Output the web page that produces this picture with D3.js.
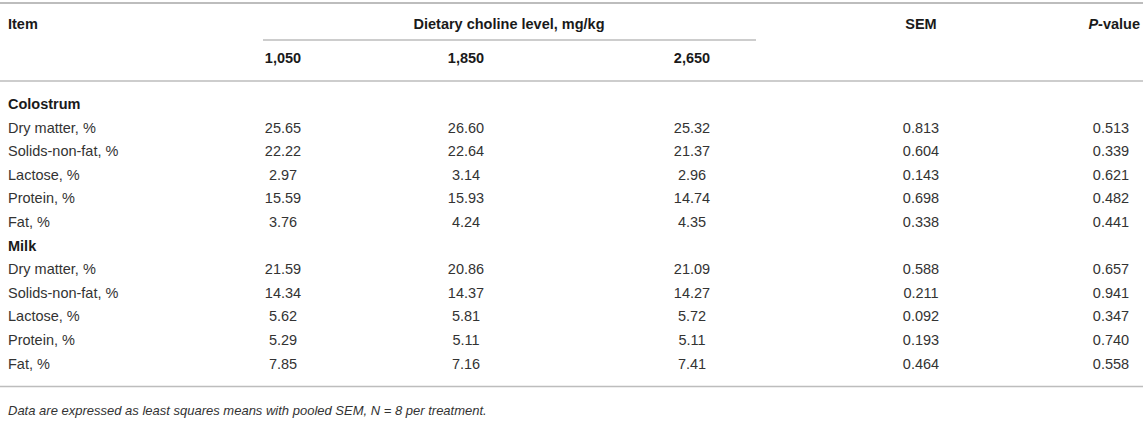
<!DOCTYPE html>
<html>
<head>
<meta charset="utf-8">
<script src="https://cdn.jsdelivr.net/npm/d3@7"></script>
<style>
  html, body { margin: 0; padding: 0; background: #fff; }
  svg text { font-family: "Liberation Sans", Arial, Helvetica, sans-serif; }
</style>
</head>
<body>
<svg id="table" width="1143" height="442"></svg>
<script>
// 표 데이터
var levels = ["1,050", "1,850", "2,650"];
var sections = ["Colostrum", "Milk"];
var items = ["Dry matter, %", "Solids-non-fat, %", "Lactose, %", "Protein, %", "Fat, %"];

var colostrumMeans = [
  [25.65, 26.60, 25.32],
  [22.22, 22.64, 21.37],
  [2.97, 3.14, 2.96],
  [15.59, 15.93, 14.74],
  [3.76, 4.24, 4.35]
];
var colostrumSEM = [0.813, 0.604, 0.143, 0.698, 0.338];
var colostrumP = [0.513, 0.339, 0.621, 0.482, 0.441];

var milkMeans = [
  [21.59, 20.86, 21.09],
  [14.34, 14.37, 14.27],
  [5.62, 5.81, 5.72],
  [5.29, 5.11, 5.11],
  [7.85, 7.16, 7.41]
];
var milkSEM = [0.588, 0.211, 0.092, 0.193, 0.464];
var milkP = [0.657, 0.941, 0.347, 0.740, 0.558];

var footnote = "Data are expressed as least squares means with pooled SEM, N = 8 per treatment.";

var svg = d3.select("#table"),
    width = +svg.attr("width");

// 행 목록 만들기
var rows = [];
var blocks = [
  { name: sections[0], means: colostrumMeans, sem: colostrumSEM, p: colostrumP },
  { name: sections[1], means: milkMeans, sem: milkSEM, p: milkP }
];
blocks.forEach(function(b) {
  rows.push({ key: b.name, label: b.name, header: true });
  items.forEach(function(it, i) {
    rows.push({ key: b.name + "|" + it, label: it, means: b.means[i], sem: b.sem[i], p: b.p[i] });
  });
});

var y = d3.scalePoint()
    .domain(rows.map(function(d) { return d.key; }))
    .range([104, 363.6]);

var xLevel = d3.scaleOrdinal()
    .domain(levels)
    .range([283, 466, 692]);

var xSem = 921, xP = 1111, xItem = 8;

var textColor = "#333", headColor = "#1a1a1a", lineColor = "#bdbdbd";

// 가로선
function hline(x1, x2, yy, w) {
  svg.append("line")
      .attr("x1", x1).attr("x2", x2)
      .attr("y1", yy).attr("y2", yy)
      .attr("stroke", lineColor)
      .attr("stroke-width", w);
}
hline(0, width, 3, 2);
hline(263, 756, 40, 1.5);
hline(0, width, 81, 1.5);
hline(0, width, 386.5, 1.5);

// 헤더
var head = svg.append("g")
    .attr("font-size", "14.5px")
    .attr("font-weight", "bold")
    .attr("fill", headColor);

head.append("text").attr("x", xItem).attr("y", 24).attr("dy", "0.35em").text("Item");
head.append("text").attr("x", 509).attr("y", 24).attr("dy", "0.35em")
    .attr("text-anchor", "middle").text("Dietary choline level, mg/kg");
head.append("text").attr("x", xSem).attr("y", 24).attr("dy", "0.35em")
    .attr("text-anchor", "middle").text("SEM");
var pt = head.append("text").attr("x", 1140).attr("y", 24).attr("dy", "0.35em")
    .attr("text-anchor", "end");
pt.append("tspan").attr("font-style", "italic").text("P");
pt.append("tspan").text("-value");

head.selectAll(".lvl")
    .data(levels)
    .enter()
    .append("text")
    .attr("class", "lvl")
    .attr("x", function(d) { return xLevel(d); })
    .attr("y", 58)
    .attr("dy", "0.35em")
    .attr("text-anchor", "middle")
    .text(function(d) { return d; });

// 본문 행
var body = svg.append("g").attr("font-size", "14.5px");

var row = body.selectAll(".row")
    .data(rows)
    .enter()
    .append("g")
    .attr("class", "row")
    .attr("transform", function(d) { return "translate(0," + y(d.key) + ")"; });

row.append("text")
    .attr("x", xItem)
    .attr("dy", "0.35em")
    .attr("fill", function(d) { return d.header ? headColor : textColor; })
    .attr("font-weight", function(d) { return d.header ? "bold" : "normal"; })
    .text(function(d) { return d.label; });

var dataRows = row.filter(function(d) { return !d.header; });

dataRows.selectAll(".mean")
    .data(function(d) { return d.means; })
    .enter()
    .append("text")
    .attr("class", "mean")
    .attr("x", function(d, i) { return xLevel(levels[i]); })
    .attr("dy", "0.35em")
    .attr("text-anchor", "middle")
    .attr("fill", textColor)
    .text(function(d) { return d.toFixed(2); });

dataRows.append("text")
    .attr("x", xSem)
    .attr("dy", "0.35em")
    .attr("text-anchor", "middle")
    .attr("fill", textColor)
    .text(function(d) { return d.sem.toFixed(3); });

dataRows.append("text")
    .attr("x", xP)
    .attr("dy", "0.35em")
    .attr("text-anchor", "middle")
    .attr("fill", textColor)
    .text(function(d) { return d.p.toFixed(3); });

// 각주
var fn = svg.append("text")
    .attr("x", xItem)
    .attr("y", 410)
    .attr("dy", "0.35em")
    .attr("font-size", "13px")
    .attr("font-style", "italic")
    .attr("fill", textColor)
    .text(footnote);
</script>
</body>
</html>
